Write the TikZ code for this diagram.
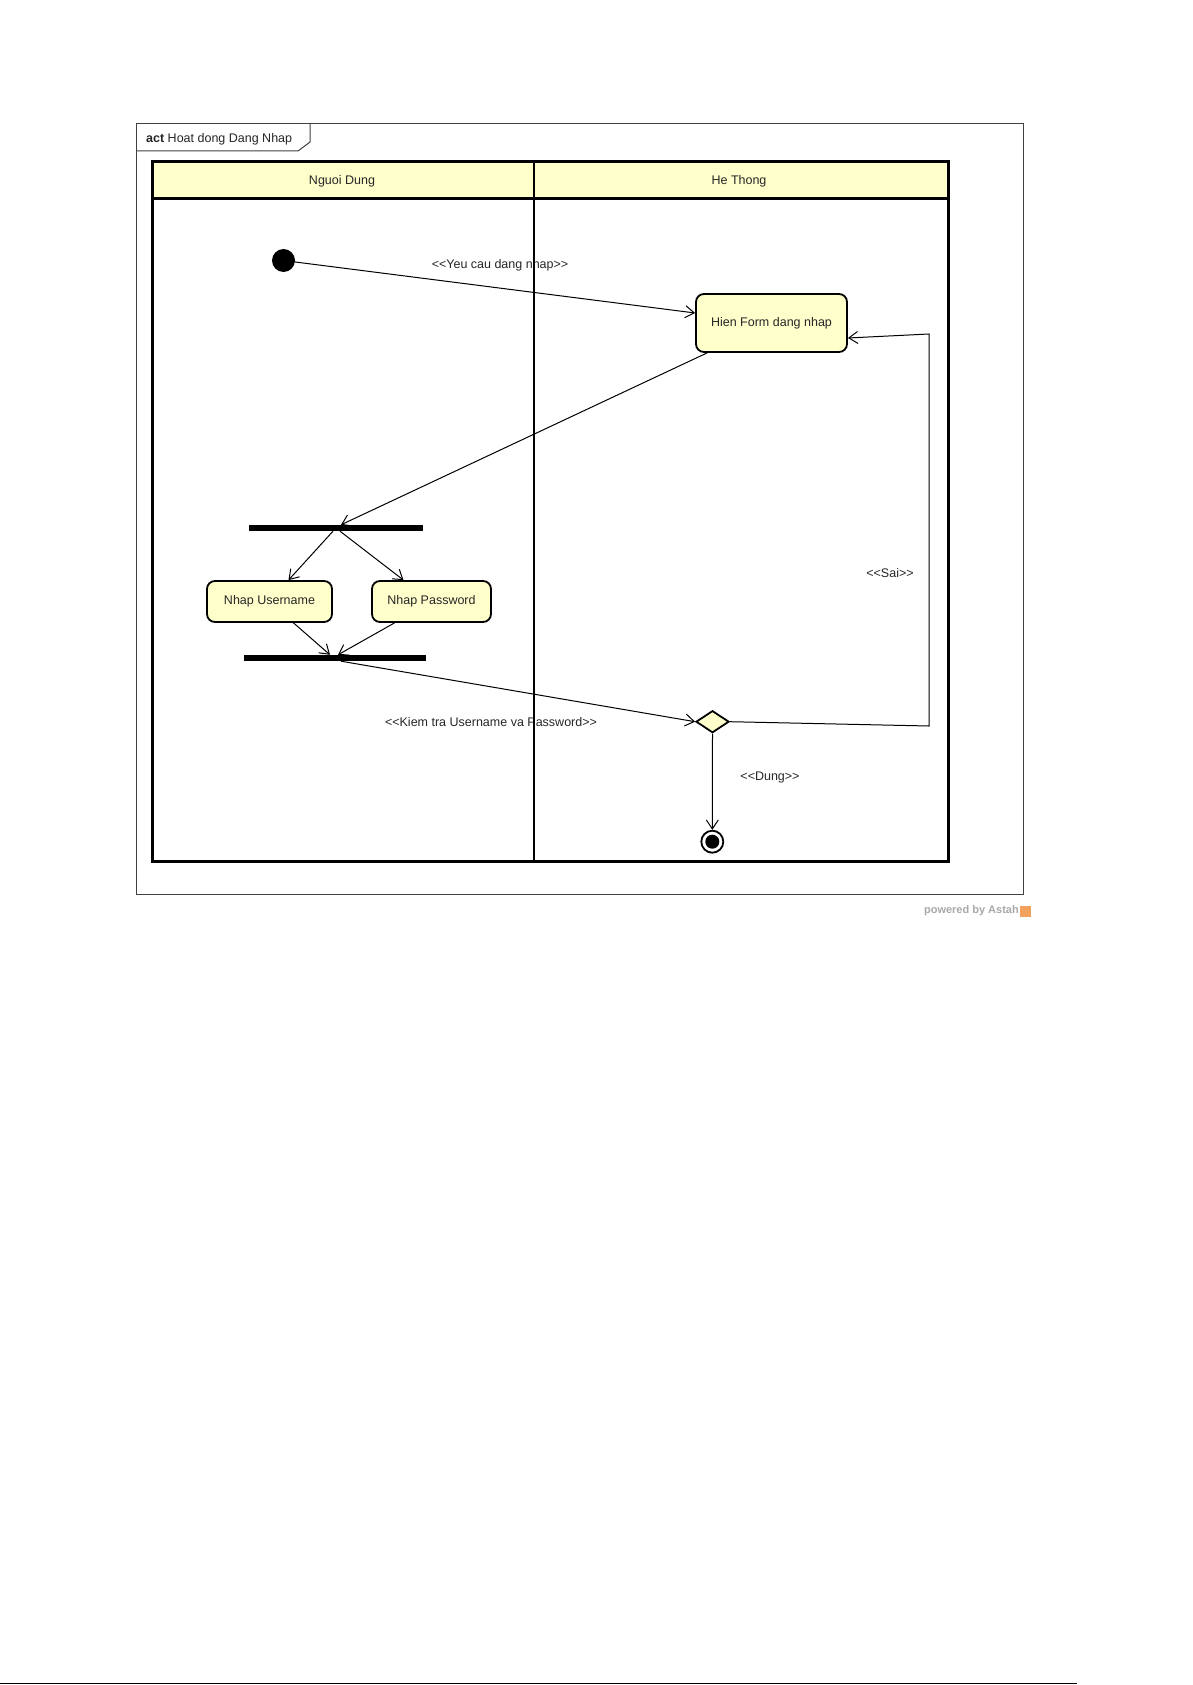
\documentclass[tikz,border=0pt]{standalone}
\usepackage{fontspec}
\setmainfont{Liberation Sans}
\usetikzlibrary{arrows.meta,calc,shapes.geometric}
\definecolor{lane}{HTML}{FFFFCC}
\definecolor{poweredgray}{HTML}{A8A8A8}
\definecolor{astahorange}{HTML}{F2A15E}
\newcommand\stereo[1]{<{}<#1>{}>}
\begin{document}
\begin{tikzpicture}[x=1pt,y=-1pt,
  every node/.style={font=\fontsize{12.5}{14}\selectfont, text=black!85},
  action/.style={draw, line width=1.8pt, fill=lane, rounded corners=8pt, inner sep=0pt, align=center},
  bar/.style={fill=black, inner sep=0pt, minimum height=6pt},
  flow/.style={line width=1pt, -{Straight Barb[length=9pt,width=12pt,line width=1pt]}},
  lbl/.style={inner sep=0pt},
  lanestroke/.style={line width=2.6pt}]
% bounding box
\useasboundingbox (0,0) rectangle (1192,1685);
% outer frame
\draw[line width=1pt, black!75] (136,124) rectangle (1023,894);
\draw[line width=1pt, black!75] (136,151) -- (298,151) -- (310,142) -- (310,124);
\node[lbl, anchor=west] (title) at (146,139) {\textbf{act} Hoat dong Dang Nhap};
% lane header fills
\fill[lane] (152.7,161.7) rectangle (948.3,198.5);
\node[lbl] (lane1) at (342,181) {Nguoi Dung};
\node[lbl] (lane2) at (739,181.5) {He Thong};
% labels
\node[lbl] (l1) at (500,265) {\stereo{Yeu cau dang nhap}};
\node[lbl] (l2) at (890,573) {\stereo{Sai}};
\node[lbl] (l3) at (491,722) {\stereo{Kiem tra Username va Password}};
\node[lbl] (l4) at (770,777) {\stereo{Dung}};
% nodes
\node[circle, fill=black, inner sep=0pt, minimum size=23pt] (start) at (283.5,260.5) {};
\node[action, minimum width=151pt, minimum height=58pt] (hien) at (771.5,323) {Hien Form dang nhap};
\node[bar, minimum width=174pt] (fork) at (336,528) {};
\node[action, minimum width=125pt, minimum height=41pt] (user) at (269.5,601.5) {Nhap Username};
\node[action, minimum width=119pt, minimum height=41pt] (pass) at (431.5,601.5) {Nhap Password};
\node[bar, minimum width=182pt] (join) at (335,658) {};
\node[diamond, draw, fill=lane, line width=1.8pt, inner sep=0pt, minimum width=33pt, minimum height=22pt] (dec) at (712.5,721.7) {};
\node[circle, draw, line width=1.8pt, inner sep=0pt, minimum size=22pt] (final) at (712.3,841.7) {};
\node[circle, fill=black, inner sep=0pt, minimum size=14pt] (finalin) at (final.center) {};
\coordinate (c1) at (929,726);
\coordinate (c2) at (929,334);
% flows
\draw[flow] (start) -- ($(hien.west)+(0,-10)$);
\draw[flow] ($(hien.south west)+(12,0)$) -- ($(fork.north)+(5,0)$);
\draw[flow] ($(fork.south)+(-3,0)$) -- ($(user.north)+(19,0)$);
\draw[flow] ($(fork.south)+(4,0)$) -- ($(pass.north)+(-28,0)$);
\draw[flow] ($(user.south)+(24,0)$) -- ($(join.north)+(-5,0)$);
\draw[flow] ($(pass.south)+(-37,0)$) -- ($(join.north)+(3,0)$);
\draw[flow] ($(join.south)+(6,0)$) -- (dec.west);
\draw[flow] (dec.east) -- (c1) -- (c2) -- ($(hien.east)+(0,15)$);
\draw[flow] (dec.south) -- (final.north);
% swimlane strokes
\draw[lanestroke] (152.7,161.7) rectangle (948.3,861.7);
\draw[lanestroke] (152.7,198.5) -- (948.3,198.5);
\draw[lanestroke] (534,161.7) -- (534,861.7);
% powered by
\node[lbl, anchor=east, text=poweredgray, font=\fontsize{11}{12}\selectfont\bfseries] (pow) at (1019,911) {powered by Astah};
\fill[astahorange] (1020,905.5) rectangle (1030.5,916.5);
% page edge line
\draw[line width=1.5pt] (0,1683.5) -- (1077,1683.5);
\end{tikzpicture}
\end{document}
